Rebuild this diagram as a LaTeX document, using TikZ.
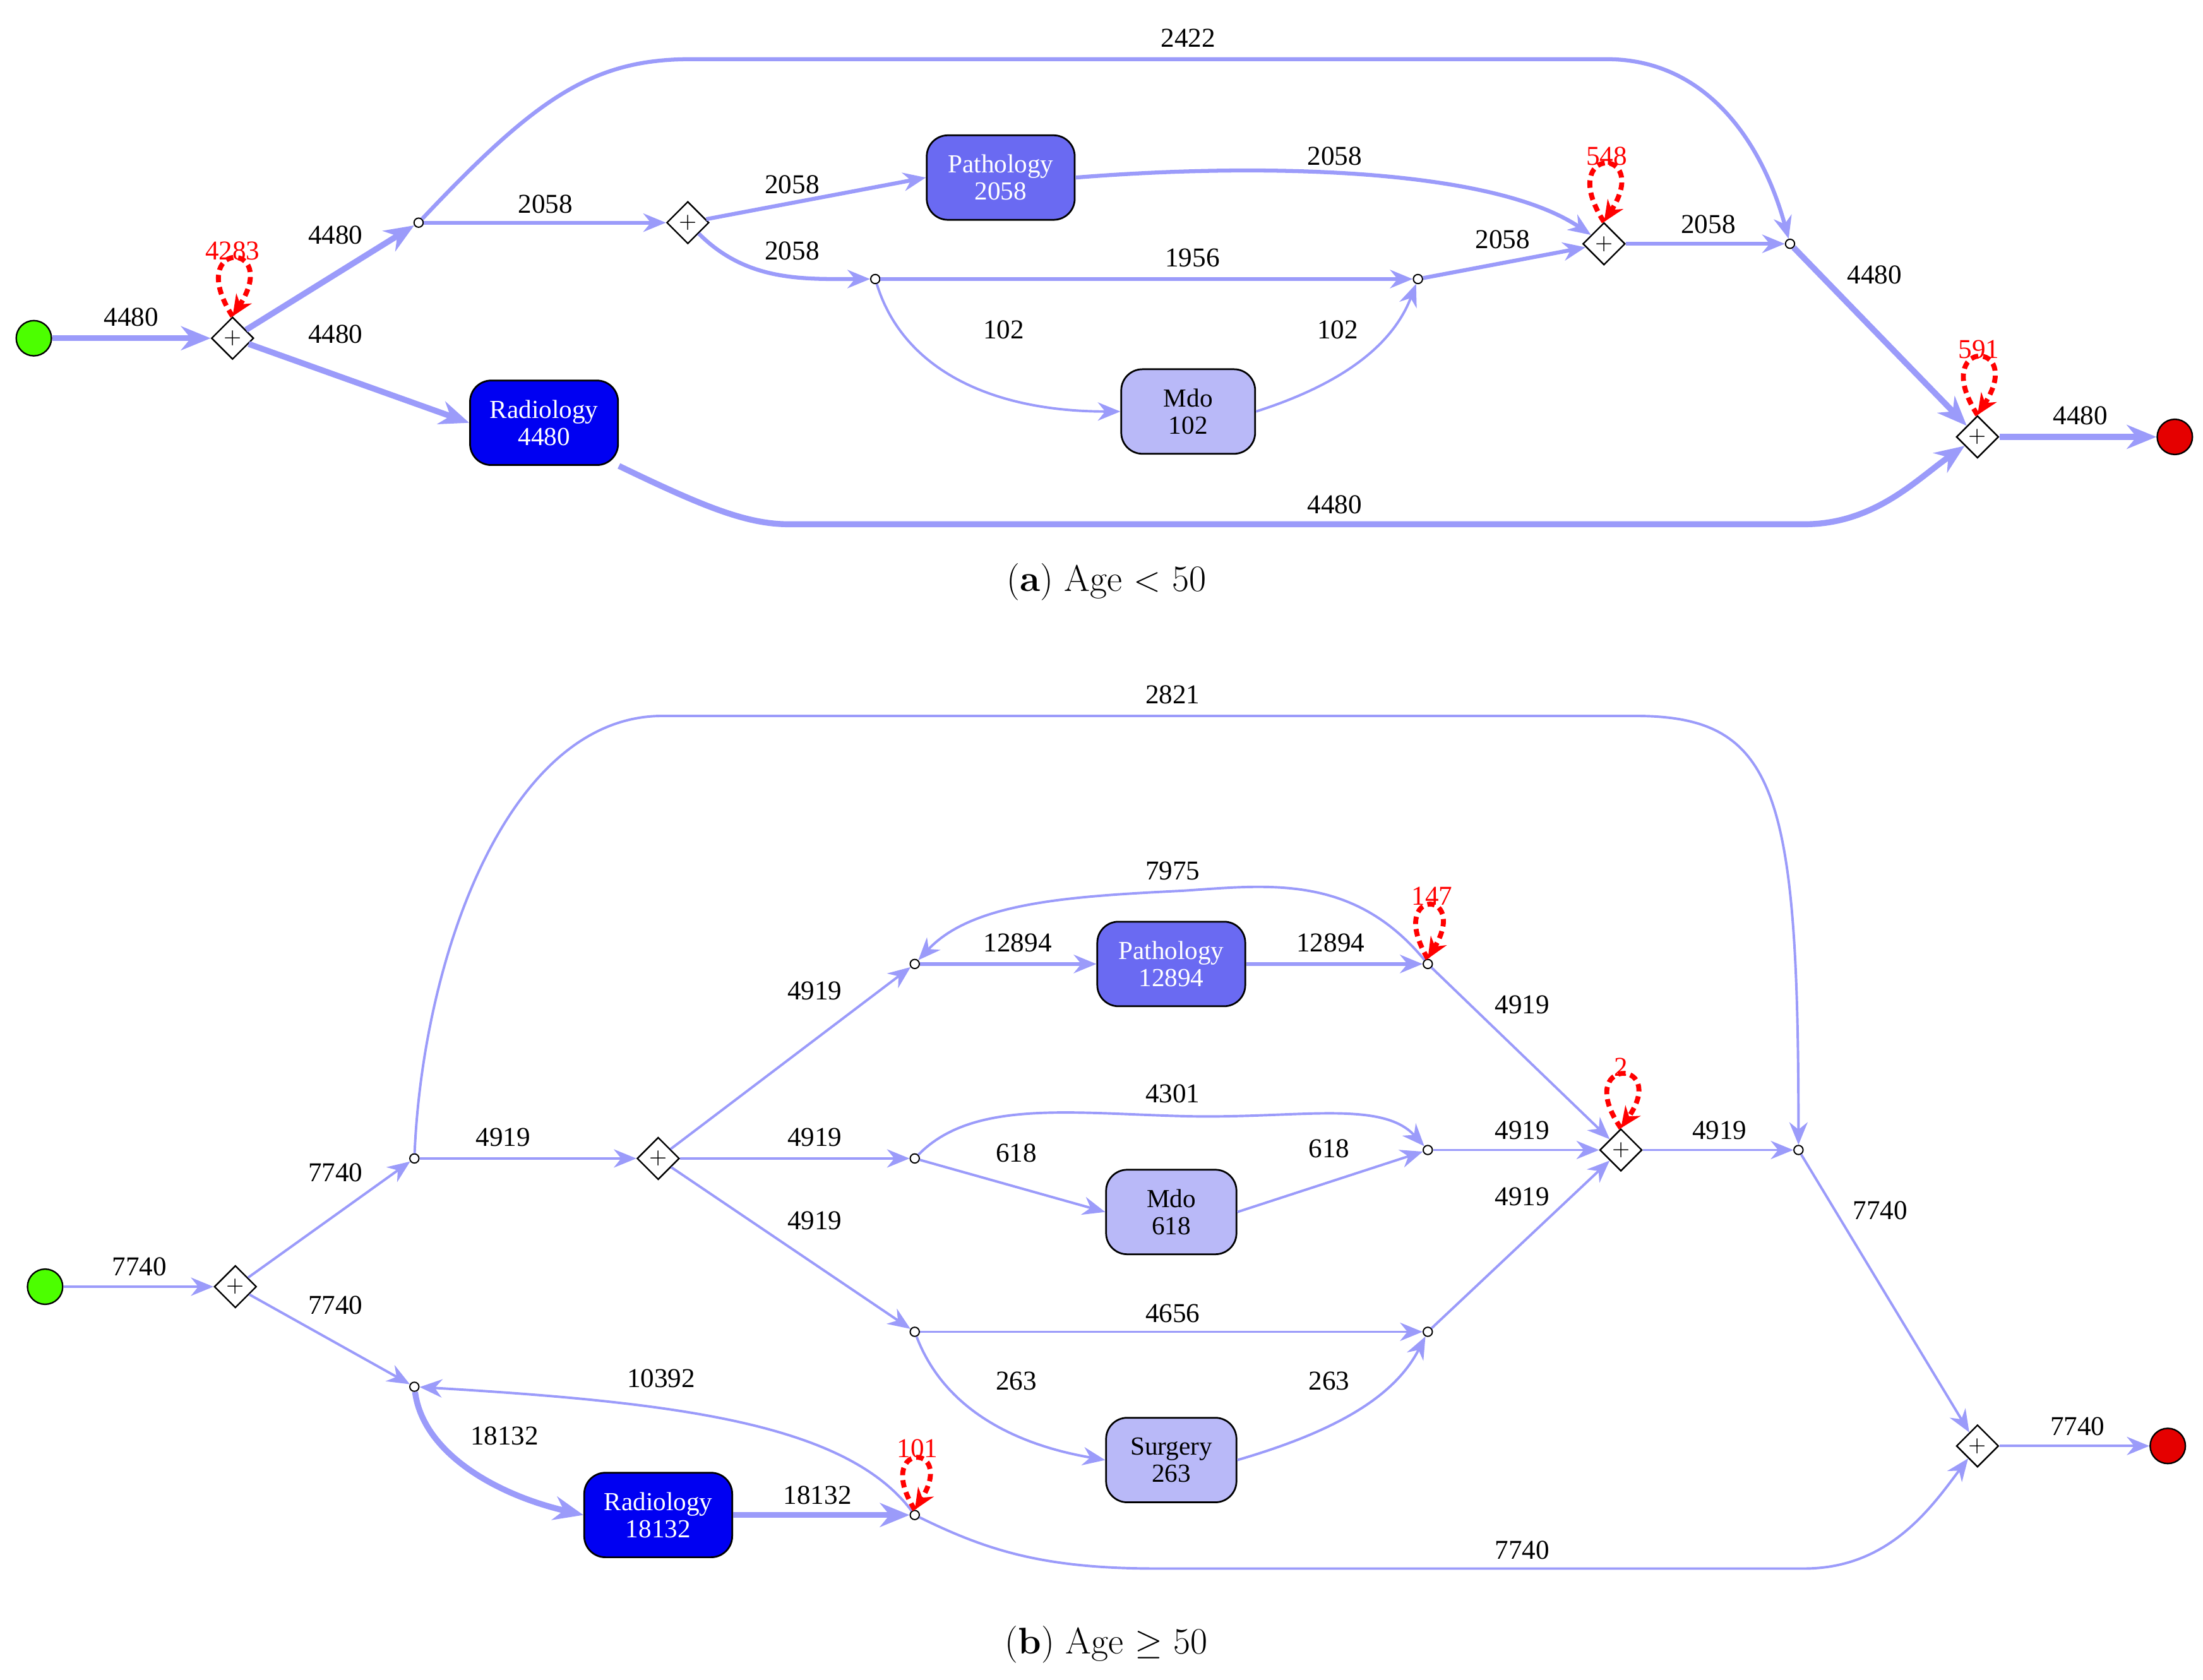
\documentclass[tikz,border=0pt]{standalone}
\usepackage{fontspec}
\newfontfamily\lab{Liberation Serif}
\usetikzlibrary{shapes.geometric,arrows.meta}
\definecolor{ec}{HTML}{9B9BFA}
\definecolor{pat}{HTML}{6A6AF2}
\definecolor{rad}{HTML}{0000F2}
\definecolor{lt}{HTML}{B9B9F8}
\tikzset{
 e/.style={draw=ec,line width=1.0pt,-{Stealth[length=0.32cm,width=0.26cm]}},
 em/.style={e,line width=1.6pt},
 et/.style={e,line width=2.4pt,-{Stealth[length=0.42cm,width=0.34cm]}},
 act/.style={draw=black,rounded corners=0.3cm,minimum width=2.1cm,minimum height=1.2cm,align=center,font=\lab\fontsize{10.5}{11}\selectfont,inner sep=1pt,line width=0.7pt},
 gate/.style={diamond,draw=black,fill=white,minimum size=0.6cm,inner sep=0pt,line width=0.6pt,font=\fontsize{9}{9}\selectfont},
 dot/.style={circle,draw=black,fill=white,minimum size=0.13cm,inner sep=0pt,line width=0.5pt},
 lb/.style={font=\lab\fontsize{11}{12}\selectfont},
 rl/.style={font=\lab\fontsize{11}{12}\selectfont,text=red},
 loop/.style={draw=red,dashed,line width=2pt,dash pattern=on 3pt off 2pt,-{Stealth[length=0.3cm,width=0.26cm]}},
 captxt/.style={font=\fontsize{15}{16}\selectfont}
}
\begin{document}
\begin{tikzpicture}[x=0.02cm,y=-0.02cm]
\useasboundingbox (0,0) rectangle (1563,1192);
% ---------- (a)
\node[circle,draw=black,fill=green!70!yellow,minimum size=0.5cm,line width=0.6pt] (sa) at (24,240) {};
\node[circle,draw=black,fill=red!90!black,minimum size=0.5cm,line width=0.6pt] (ea) at (1543,310) {};
\node[gate] (a1) at (165,240) {+};
\node[gate] (a2) at (488,158) {+};
\node[gate] (a3) at (1138,173) {+};
\node[gate] (a4) at (1403,310) {+};
\node[dot] (ad1) at (297,158) {};
\node[dot] (ad2) at (621,198) {};
\node[dot] (ad3) at (1006,198) {};
\node[dot] (ad4) at (1270,173) {};
\node[act,fill=pat,text=white] (apat) at (710,126) {Pathology\\2058};
\node[act,fill=lt,minimum width=1.9cm] (amdo) at (843,292) {Mdo\\102};
\node[act,fill=rad,text=white] (arad) at (386,300) {Radiology\\4480};
\draw[et] (sa) -- (a1);
\draw[et] (a1) -- (ad1);
\draw[et] (a1) -- (arad.west);
\draw[em] (ad1) -- (a2);
\draw[em] (ad1) .. controls (380,70) and (420,42) .. (490,42) -- (1140,42) .. controls (1210,42) and (1250,100) .. (ad4);
\draw[em] (a2) -- (apat.west);
\draw[em] (a2) .. controls (530,200) and (570,198) .. (ad2);
\draw[em] (apat.east) .. controls (900,115) and (1060,120) .. (a3);
\draw[em] (ad2) -- (ad3);
\draw[e] (ad2) .. controls (640,260) and (700,292) .. (amdo.west);
\draw[e] (amdo.east) .. controls (960,270) and (990,240) .. (ad3);
\draw[em] (ad3) -- (a3);
\draw[em] (a3) -- (ad4);
\draw[et] (ad4) -- (a4);
\draw[et] (a4) -- (ea);
\draw[et] (arad.south east) .. controls (500,360) and (530,372) .. (560,372) -- (1280,372) .. controls (1330,372) and (1360,340) .. (a4);
\draw[loop] (a1.north) .. controls (130,170) and (200,170) .. (a1.north);
\draw[loop] (a3.north) .. controls (1103,103) and (1173,103) .. (a3.north);
\draw[loop] (a4.north) .. controls (1368,240) and (1438,240) .. (a4.north);
\node[lb] (la1) at (93,225) {4480};
\node[rl] (la2) at (165,178) {4283};
\node[lb] (la3) at (238,167) {4480};
\node[lb] (la4) at (238,237) {4480};
\node[lb] (la5) at (387,145) {2058};
\node[lb] (la6) at (843,27) {2422};
\node[lb] (la7) at (562,131) {2058};
\node[lb] (la8) at (562,178) {2058};
\node[lb] (la9) at (947,111) {2058};
\node[lb] (la10) at (846,183) {1956};
\node[lb] (la11) at (712,234) {102};
\node[lb] (la12) at (949,234) {102};
\node[lb] (la13) at (1066,170) {2058};
\node[rl] (la14) at (1140,111) {548};
\node[lb] (la15) at (1212,159) {2058};
\node[lb] (la16) at (1330,195) {4480};
\node[rl] (la17) at (1404,248) {591};
\node[lb] (la18) at (1476,295) {4480};
\node[lb] (la19) at (947,358) {4480};
\node[captxt] (capa) at (785,413) {(\textbf{a}) Age $<$ 50};
% ---------- (b)
\node[circle,draw=black,fill=green!70!yellow,minimum size=0.5cm,line width=0.6pt] (sb) at (32,913) {};
\node[circle,draw=black,fill=red!90!black,minimum size=0.5cm,line width=0.6pt] (eb) at (1538,1026) {};
\node[gate] (b1) at (167,913) {+};
\node[gate] (b2) at (467,822) {+};
\node[gate] (b3) at (1150,816) {+};
\node[gate] (b4) at (1403,1026) {+};
\node[dot] (bd1) at (294,822) {};
\node[dot] (bd2) at (294,984) {};
\node[dot] (bA) at (649,684) {};
\node[dot] (bB) at (649,822) {};
\node[dot] (bC) at (649,945) {};
\node[dot] (bD) at (1013,684) {};
\node[dot] (bE) at (1013,816) {};
\node[dot] (bF) at (1013,945) {};
\node[dot] (b7) at (1276,816) {};
\node[dot] (bR) at (649,1075) {};
\node[act,fill=pat,text=white] (bpat) at (831,684) {Pathology\\12894};
\node[act,fill=lt,minimum width=1.85cm] (bmdo) at (831,860) {Mdo\\618};
\node[act,fill=lt,minimum width=1.85cm] (bsur) at (831,1036) {Surgery\\263};
\node[act,fill=rad,text=white] (brad) at (467,1075) {Radiology\\18132};
\draw[e] (sb) -- (b1);
\draw[e] (b1) -- (bd1);
\draw[e] (b1) -- (bd2);
\draw[e] (bd1) -- (b2);
\draw[e] (bd1) .. controls (300,680) and (360,508) .. (470,508) -- (1160,508) .. controls (1260,508) and (1276,560) .. (b7);
\draw[e] (b2) -- (bA);
\draw[e] (b2) -- (bB);
\draw[e] (b2) -- (bC);
\draw[em] (bA) -- (bpat);
\draw[em] (bpat) -- (bD);
\draw[e] (bD) .. controls (960,620) and (900,628) .. (840,632) .. controls (760,636) and (690,640) .. (bA);
\draw[e] (bD) -- (b3);
\draw[e] (bB) -- (bmdo.west);
\draw[e] (bmdo.east) -- (bE);
\draw[e] (bB) .. controls (690,780) and (760,790) .. (840,792) .. controls (920,794) and (980,780) .. (bE);
\draw[e] (bE) -- (b3);
\draw[e] (bC) -- (bF);
\draw[e] (bC) .. controls (670,1000) and (720,1025) .. (bsur.west);
\draw[e] (bsur.east) .. controls (950,1015) and (990,990) .. (bF);
\draw[e] (bF) -- (b3);
\draw[e] (b3) -- (b7);
\draw[e] (b7) -- (b4);
\draw[e] (b4) -- (eb);
\draw[et] (bd2) .. controls (300,1030) and (350,1060) .. (brad.west);
\draw[et] (brad) -- (bR);
\draw[e] (bR) .. controls (600,1010) and (480,995) .. (bd2);
\draw[e] (bR) .. controls (700,1100) and (740,1113) .. (820,1113) -- (1280,1113) .. controls (1340,1113) and (1370,1070) .. (b4);
\draw[loop] (bD.north) .. controls (983,630) and (1043,630) .. (bD.north);
\draw[loop] (b3.north) .. controls (1115,750) and (1185,750) .. (b3.north);
\draw[loop] (bR.north) .. controls (619,1023) and (679,1023) .. (bR.north);
\node[lb] (lb1) at (99,899) {7740};
\node[lb] (lb2) at (238,832) {7740};
\node[lb] (lb3) at (238,926) {7740};
\node[lb] (lb4) at (357,807) {4919};
\node[lb] (lb5) at (832,493) {2821};
\node[lb] (lb6) at (578,703) {4919};
\node[lb] (lb7) at (578,807) {4919};
\node[lb] (lb8) at (578,866) {4919};
\node[lb] (lb9) at (722,669) {12894};
\node[lb] (lb10) at (944,669) {12894};
\node[lb] (lb11) at (832,618) {7975};
\node[rl] (lb12) at (1016,636) {147};
\node[lb] (lb13) at (1080,713) {4919};
\node[lb] (lb14) at (721,818) {618};
\node[lb] (lb15) at (943,815) {618};
\node[lb] (lb16) at (832,776) {4301};
\node[lb] (lb17) at (1080,802) {4919};
\node[lb] (lb18) at (832,932) {4656};
\node[lb] (lb19) at (721,980) {263};
\node[lb] (lb20) at (943,980) {263};
\node[lb] (lb21) at (1080,849) {4919};
\node[rl] (lb22) at (1150,757) {2};
\node[lb] (lb23) at (1220,802) {4919};
\node[lb] (lb24) at (1334,859) {7740};
\node[lb] (lb25) at (1474,1012) {7740};
\node[lb] (lb26) at (358,1019) {18132};
\node[lb] (lb27) at (580,1061) {18132};
\node[rl] (lb28) at (651,1028) {101};
\node[lb] (lb29) at (469,978) {10392};
\node[lb] (lb30) at (1080,1100) {7740};
\node[captxt] (capb) at (785,1167) {(\textbf{b}) Age $\geq$ 50};
\end{tikzpicture}
\end{document}
